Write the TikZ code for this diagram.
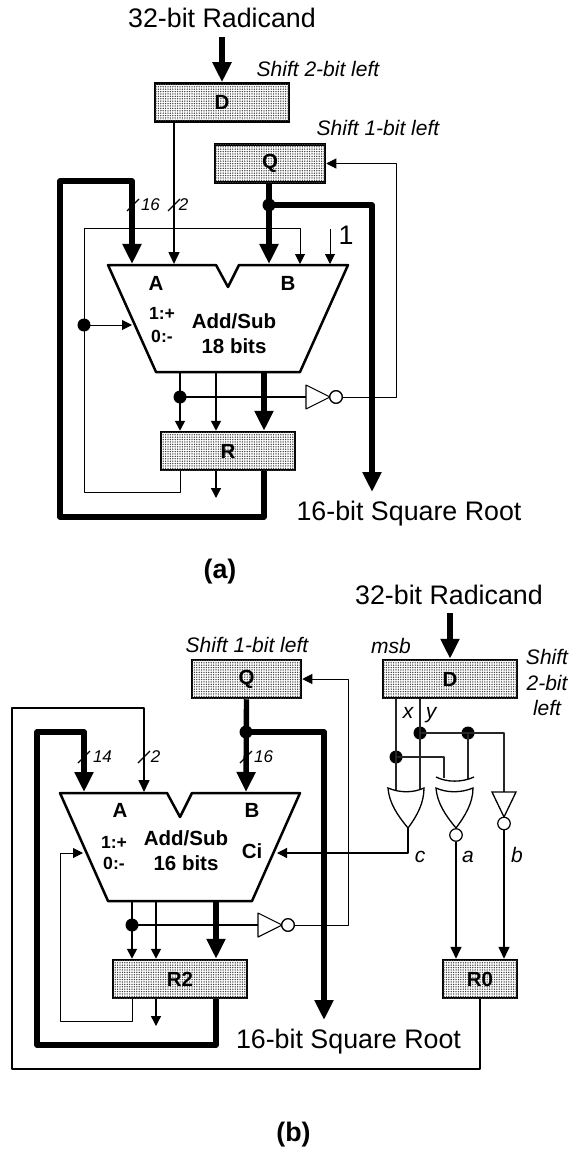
\documentclass[tikz,border=0pt]{standalone}
\usepackage{fontspec}
\setmainfont{Liberation Sans}
\usetikzlibrary{arrows.meta,patterns.meta}
\tikzset{
  big/.style={font=\fontsize{26.8}{30}\selectfont,inner sep=0pt},
  ital/.style={font=\fontsize{21}{24}\selectfont\itshape,inner sep=0pt},
  smallit/.style={font=\fontsize{17}{19}\selectfont\itshape,inner sep=0pt},
  bld/.style={font=\fontsize{20.5}{24}\selectfont\bfseries,inner sep=0pt},
  capt/.style={font=\fontsize{26.8}{30}\selectfont\bfseries,inner sep=0pt},
  sgn/.style={font=\fontsize{17.6}{20}\selectfont\bfseries,inner sep=0pt},
  reg/.style={draw=black,line width=2.5pt,fill=white,
    postaction={pattern={Dots[distance=2.4pt,radius=0.75pt]},pattern color=black!75},
    minimum width=#1,minimum height=38pt,inner sep=0pt,font=\fontsize{20.5}{24}\selectfont\bfseries},
  thinw/.style={line width=1.1pt,line join=round,draw=black},
  medw/.style={line width=1.5pt,line join=round,draw=black!85},
  tarr/.style={-{Triangle[length=10pt,width=10pt]},line width=1pt,line join=round},
  marr/.style={-{Triangle[length=12pt,width=11pt]},line width=1.6pt,line join=round},
  barr/.style={-{Triangle[length=20pt,width=18pt]},line width=5.4pt,line join=round},
  dotj/.style={circle,fill=black,draw=none,minimum size=13pt,inner sep=0pt},
  bubble/.style={circle,draw=black,fill=white,line width=1.2pt,minimum size=12.5pt,inner sep=0pt},
  alu/.style={line width=2.5pt,line join=round,fill=white},
  slashm/.style={line width=1.1pt},
  gate/.style={line width=1.3pt,line join=miter,fill=white},
}
\begin{document}
\begin{tikzpicture}[x=1pt,y=-1pt]
\useasboundingbox (0,0) rectangle (581,1150);
\fill[white] (0,0) rectangle (581,1150);

%% ---------- (a) ----------
\path[alu,draw] (108,265) -- (216,265) -- (228,287) -- (239,265) -- (348,265) -- (300,372) -- (156,372) -- cycle;
\node[big] (aT) at (222,18) {32-bit Radicand};
\node[reg=134pt] (aD) at (222,102.5) {D};
\node[reg=110pt] (aQ) at (270,163.5) {Q};
\node[reg=134pt] (aR) at (228,451) {R};
\node[ital] (aS2) at (318,69) {Shift 2-bit left};
\node[ital] (aS1) at (378,128) {Shift 1-bit left};
\node[bld] (aA) at (156,283) {A};
\node[bld] (aB) at (288,283) {B};
\node[sgn] (aP) at (162,313) {1:+};
\node[sgn] (aM) at (162,336) {0:-};
\node[bld] (aL1) at (234,321) {Add/Sub};
\node[bld] (aL2) at (234,346) {18 bits};
\node[big,anchor=base] (aOut) at (409,520) {16-bit Square Root};
\node[capt] (aCap) at (220,572) {(a)};
\node[big] (aOne) at (346,235) {1};
\node[smallit] (a16) at (150.5,205) {16};
\node[smallit] (a2) at (183.5,205) {2};
\coordinate (aPA) at (132,264);
\coordinate (aP2) at (174,264);
\coordinate (aPB) at (269,264);
\coordinate (aPC) at (300,264);
\coordinate (aP1) at (330,264);
\coordinate (aP1t) at (330,229);
\coordinate (aCtl) at (132,325);
\coordinate (aBotL) at (180,372);
\coordinate (aBotM) at (216,372);
\coordinate (aBotR) at (264,372);
\coordinate (aTip) at (372,492);
\coordinate (aOutS) at (216,498);
\coordinate (aTri) at (306,397);
\node[dotj] (aJQ) at (269,205) {};
\node[dotj] (aJS) at (84,325) {};
\node[dotj] (aJB) at (180,397) {};
\node[bubble] (aNot) at (336,397) {};

\draw[barr] (222,37) -- (aD.north);
\draw[marr] (aD.south -| aP2) -- (aP2);
\draw[barr] (aQ.south -| aPB) -- (aPB);
\draw[barr] (aJQ.center) -| (372,300) -- (aTip);
\draw[barr] (aR.south -| aBotR) -- (264,517) -- (60,517) -- (60,181) -- (132,181) -- (aPA);
\draw[tarr] (aR.south -| aBotL) -- (180,492.5) -- (84,492.5) -- (84,229) -- (300,229) -- (aPC);
\draw[tarr] (aP1t) -- (aP1);
\draw[tarr] (aJS.center) -- (aCtl);
\draw[tarr,line width=1.6pt] (aBotL) -- (aR.north -| aBotL);
\draw[tarr,line width=1.6pt] (aBotM) -- (aR.north -| aBotM);
\draw[barr] (aBotR) -- (aR.north -| aBotR);
\draw[thinw] (aJB.center) -- (aTri);
\draw[thinw,fill=white] (306,385) -- (306,409) -- (330,397) -- cycle;
\node[bubble] at (aNot) {};
\draw[tarr] (aNot.east) -- (396,397) -- (396,163.5) -- (aQ.east);
\draw[tarr,line width=1.3pt] (aR.south -| aOutS) -- (aOutS);
\draw[slashm] (127,211) -- (139,199);
\draw[slashm] (168,211) -- (180,199);

%% ---------- (b) ----------
\path[alu,draw] (60,793) -- (167,793) -- (180,817) -- (192,793) -- (300,793) -- (252,901) -- (108,901) -- cycle;
\node[big] (bT) at (449,595) {32-bit Radicand};
\node[reg=134pt] (bD) at (450,679) {D};
\node[reg=109pt] (bQ) at (246.5,679) {Q};
\node[reg=134pt] (bR) at (180,979) {R2};
\node[reg=74pt] (bR0) at (480,979) {R0};
\node[ital] (bS1) at (247,645) {Shift 1-bit left};
\node[ital] (bMsb) at (391,646) {msb};
\node[ital] (bS2a) at (547,657) {Shift};
\node[ital] (bS2b) at (547,683) {2-bit};
\node[ital] (bS2c) at (547,708) {left};
\node[ital,anchor=base] (bx) at (408,718) {x};
\node[ital,anchor=base] (by) at (431,718) {y};
\node[ital,anchor=base] (bc) at (420,862) {c};
\node[ital,anchor=base] (ba) at (468,862) {a};
\node[ital,anchor=base] (bb) at (517,862) {b};
\node[bld] (bA) at (120,810) {A};
\node[bld] (bB) at (252,810) {B};
\node[sgn] (bP) at (114,842) {1:+};
\node[sgn] (bM) at (114,863) {0:-};
\node[bld] (bL1) at (186,838) {Add/Sub};
\node[bld] (bL2) at (186,863) {16 bits};
\node[bld] (bCi) at (252,851) {Ci};
\node[big,anchor=base] (bOut) at (348.5,1048) {16-bit Square Root};
\node[capt] (bCap) at (293.5,1135) {(b)};
\node[smallit] (b14) at (102.5,757) {14};
\node[smallit] (b2) at (155.5,757) {2};
\node[smallit] (b16) at (263.5,757) {16};
\coordinate (bPA) at (84,792);
\coordinate (bP2) at (144,792);
\coordinate (bPB) at (246,792);
\coordinate (bCtl) at (83,853);
\coordinate (bCi2) at (277,853);
\coordinate (bBotL) at (132,901);
\coordinate (bBotM) at (156,901);
\coordinate (bBotR) at (216,901);
\coordinate (bTip) at (324,1020);
\coordinate (bOutS) at (156,1026);
\coordinate (bTri) at (258,925);
\node[dotj] (bJQ) at (246,732) {};
\node[dotj] (bJB) at (132,925) {};
\node[bubble] (bNot) at (288,925) {};
\node[dotj] (bJx) at (396,757) {};
\node[dotj] (bJy) at (420,733) {};
\node[dotj] (bJy2) at (468,733) {};
\coordinate (bOrT) at (408,828);
\coordinate (bXnT) at (456,828);
\coordinate (bNotT) at (504,817);

\draw[barr] (450,613) -- (bD.north);
\draw[barr] (bQ.south) -- (bPB);
\draw[barr] (bJQ.center) -- (324,732) -- (bTip);
\draw[barr] (bR.south -| bBotR) -- (216,1045) -- (37,1045) -- (37,732) -- (84,732) -- (bPA);
\draw[marr] (bR0.south) -- (480,1069) -- (12,1069) -- (12,708) -- (144,708) -- (bP2);
\draw[tarr] (bR.south -| bBotL) -- (132,1021) -- (60,1021) -- (60,853) -- (bCtl);
\draw[tarr,line width=1.6pt] (bBotL) -- (bR.north -| bBotL);
\draw[tarr,line width=1.6pt] (bBotM) -- (bR.north -| bBotM);
\draw[barr] (bBotR) -- (bR.north -| bBotR);
\draw[thinw] (bJB.center) -- (bTri);
\draw[thinw,fill=white] (258,913) -- (258,937) -- (282,925) -- cycle;
\node[bubble] at (bNot) {};
\draw[tarr] (bNot.east) -- (348,925) -- (348,679) -- (bQ.east);
\draw[tarr,line width=1.3pt] (bR.south -| bOutS) -- (bOutS);
\draw[slashm] (78,763) -- (90,751);
\draw[slashm] (138,763) -- (150,751);
\draw[slashm] (240,763) -- (252,751);
% inputs of the gates
\draw[medw] (bD.south -| bJx) -- (396,790);
\draw[medw] (bD.south -| bJy) -- (420,790);
\draw[medw] (bJy.center) -- (504,733) -- (504,792);
\draw[medw] (bJx.center) -- (444,757) -- (444,778);
\draw[medw] (bJy2.center) -- (468,779);
% OR
\draw[gate] (388,788) .. controls (400,793) and (413,793) .. (424,788)
  .. controls (424,803) and (417,816) .. (bOrT)
  .. controls (398,816) and (389,803) .. (388,788) -- cycle;
% XNOR
\draw[gate,fill=none] (436,777) .. controls (447,782.5) and (462,782.5) .. (474,777);
\draw[gate] (436,788) .. controls (447,793) and (461,793) .. (473,788)
  .. controls (473,803) and (465,816) .. (bXnT)
  .. controls (446,816) and (437,803) .. (436,788) -- cycle;
\node[bubble] (bNa) at (456,835) {};
% NOT
\draw[gate] (492,792) -- (516,792) -- (bNotT) -- cycle;
\node[bubble] (bNb) at (504,823.5) {};
\draw[tarr,line width=1.3pt] (bOrT) -- (408,853) -- (bCi2);
\draw[marr] (bNa.south) -- (bR0.north -| bNa);
\draw[marr] (bNb.south) -- (bR0.north -| bNb);
\end{tikzpicture}
\end{document}
